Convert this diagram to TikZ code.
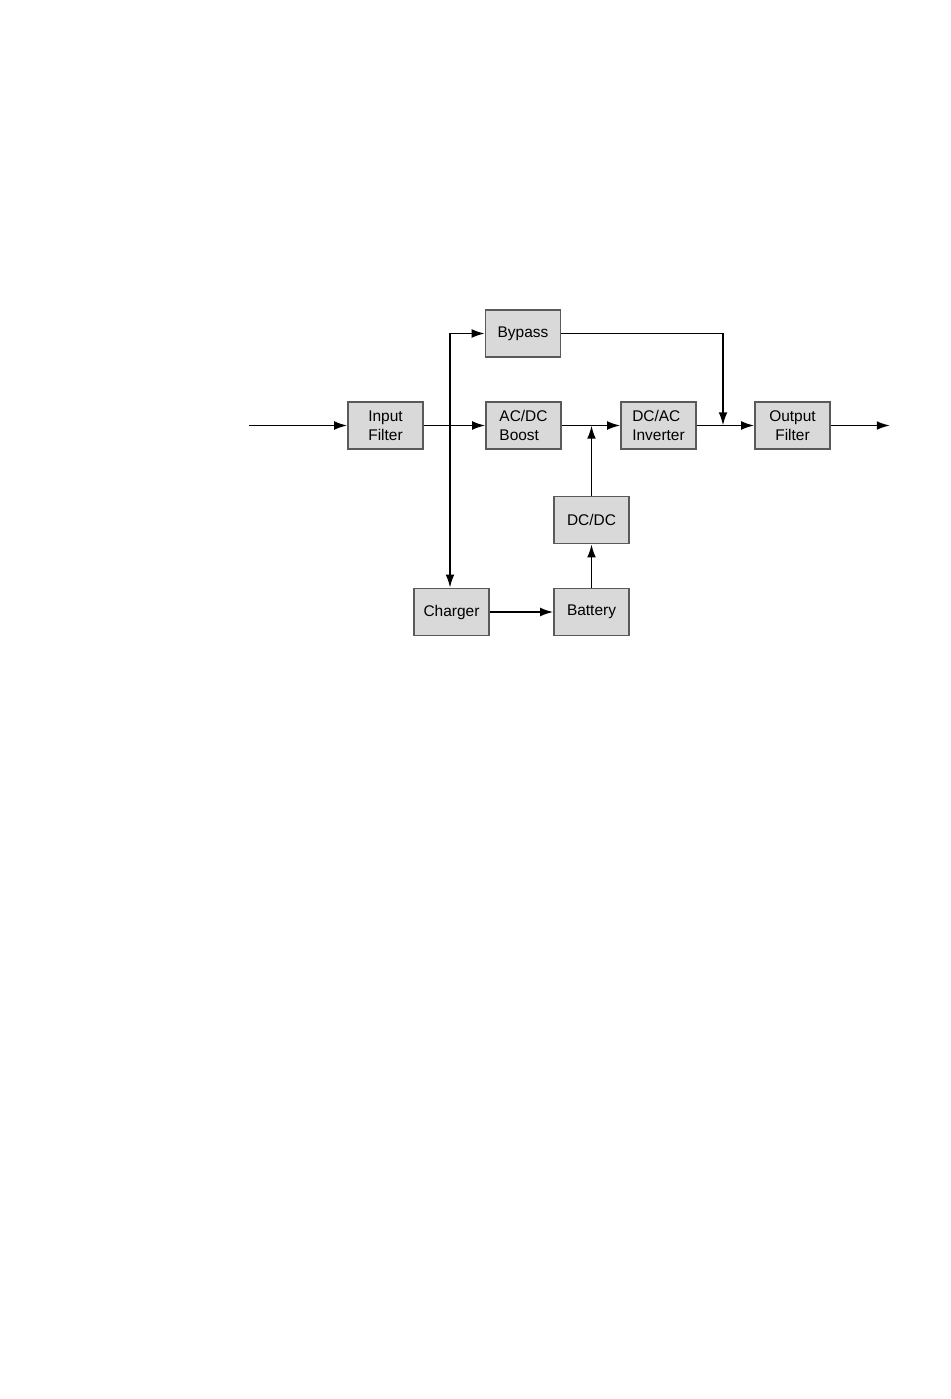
\documentclass[tikz,border=0pt]{standalone}
\usepackage{fontspec}
\setmainfont{Liberation Sans}
\usetikzlibrary{arrows.meta}

\definecolor{boxgray}{RGB}{217,217,217}
\definecolor{edgegray}{RGB}{90,90,90}

\tikzset{
  block/.style={rectangle,draw=edgegray,line width=0.9pt,fill=boxgray,
    minimum width=1.875cm,minimum height=1.18cm,inner sep=2pt,
    font=\fontsize{11}{13.5}\selectfont},
  flow/.style={line width=1.3pt,-{Latex[length=3.3mm,width=2.2mm]}}
}

\begin{document}
\begin{tikzpicture}[x=0.025cm,y=-0.025cm]
\useasboundingbox (0,0) rectangle (950,1399);

\node[block,align=center] (ifilter) at (385.5,425.5) {Input\\Filter};
\node[block] (bypass) at (523,333.5) {Bypass};
\node[block,align=left] (boost) at (523.5,425.5) {AC/DC\\Boost};
\node[block,align=left] (inverter) at (658.5,425.5) {DC/AC\\Inverter};
\node[block,align=center] (ofilter) at (792.5,425.5) {Output\\Filter};
\node[block] (dcdc) at (591.5,520) {DC/DC};
\node[block] (charger) at (451.5,612) {Charger};
\node[block] (battery) at (591.5,612) {Battery};

\coordinate (in) at (249,425.5);
\coordinate (out) at (890,425.5);
\coordinate (split) at (450,425.5);
\coordinate (join) at (591.5,425.5);
\coordinate (merge) at (723,425.5);

\draw[flow] (in) -- (ifilter);
\draw[flow] (ifilter) -- (boost);
\draw[flow] (boost) -- (inverter);
\draw[flow] (inverter) -- (ofilter);
\draw[flow] (ofilter) -- (out);
\draw[flow] (split) |- (bypass);
\draw[flow] (split) -- (split |- charger.north);
\draw[flow] (bypass) -| (merge);
\draw[flow] (charger) -- (battery);
\draw[flow] (battery) -- (dcdc);
\draw[flow] (dcdc) -- (join);
\end{tikzpicture}
\end{document}
